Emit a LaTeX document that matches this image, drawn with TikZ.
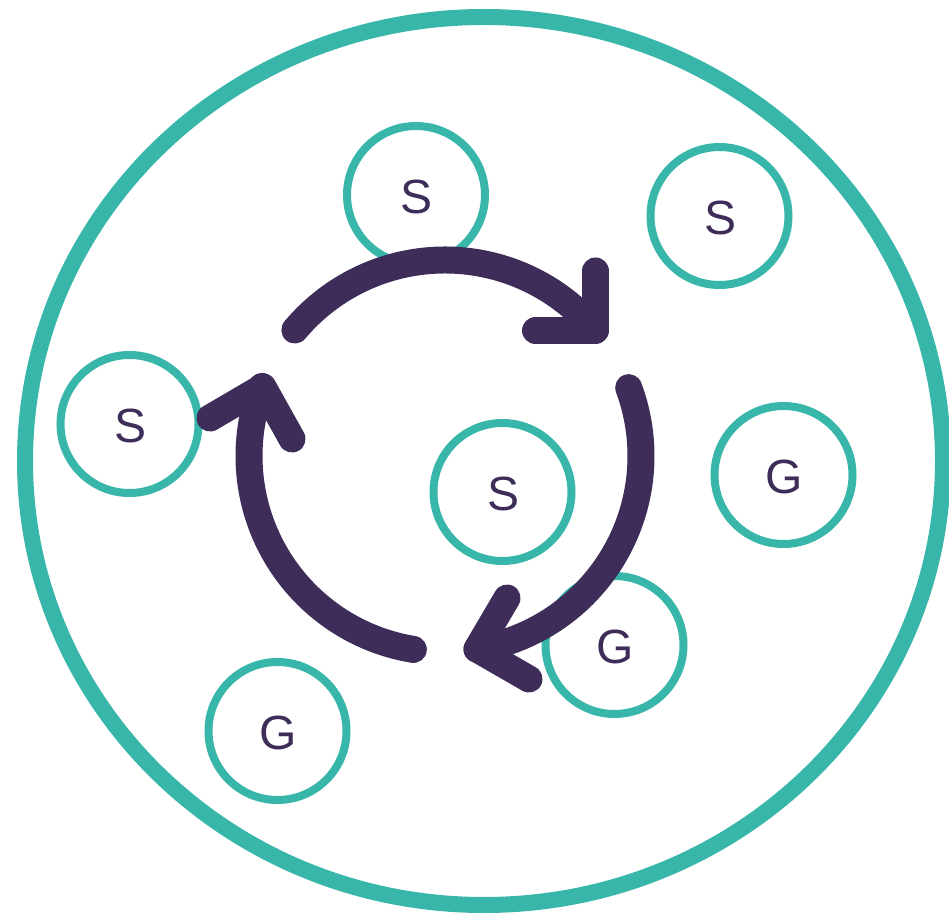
\documentclass[tikz,border=0pt]{standalone}
\usepackage{fontspec}
\setmainfont{Liberation Sans}
\usetikzlibrary{calc}
\definecolor{rim}{HTML}{38B6AA}
\definecolor{loopcol}{HTML}{3D2D58}
\tikzset{
	cell/.style = {circle, draw=rim, line width=6pt, minimum size=103.5pt, inner sep=0pt, text=loopcol, text height=27.5pt, text depth=0pt, execute at begin node=\hspace*{1.5pt}, font=\fontsize{36}{40}\selectfont},
	cycle/.style = {draw=loopcol, line width=20.25pt, line cap=round, line join=round},
}

\begin{document}
\begin{tikzpicture}[x=0.75pt, y=0.75pt]
	\useasboundingbox (0,0) rectangle (949,922);
	\draw[rim, line width=12pt] (484,461) ellipse (344.25pt and 333pt);
	\foreach \name/\x/\y/\txt in {sa/416/727/S, sb/719.5/706/S, sc/129.5/498/S, sd/502.5/430/S, ga/783.5/447/G, gb/614.5/277/G, gc/277.5/191/G} {
		\node[cell] (\name) at (\x,\y) {\txt};
	}
	\coordinate (hub) at (445,466);
	% first arrow
	\coordinate (oneStart) at ($(hub)+(140:147pt)$);
	\coordinate (oneTip) at (595.5,591.5);
	\coordinate (oneUp) at (595.5,651);
	\coordinate (oneIn) at (535.5,591.5);
	\draw[cycle] (oneStart) arc[start angle=140, end angle=40, radius=147pt];
	\draw[cycle] (oneUp) -- (oneTip) -- (oneIn);
	% second arrow
	\coordinate (twoStart) at ($(hub)+(20.4:147pt)$);
	\coordinate (twoTip) at (477,273);
	\coordinate (twoUp) at (507,324);
	\coordinate (twoIn) at (529,243);
	\draw[cycle] (twoStart) arc[start angle=20.4, end angle=-80.6, radius=147pt];
	\draw[cycle] (twoUp) -- (twoTip) -- (twoIn);
	% third arrow
	\coordinate (threeStart) at ($(hub)+(260.7:147pt)$);
	\coordinate (threeTip) at (263,535);
	\coordinate (threeUp) at (210,504);
	\coordinate (threeIn) at (292,483);
	\draw[cycle] (threeStart) arc[start angle=260.7, end angle=159.2, radius=147pt];
	\draw[cycle] (threeUp) -- (threeTip) -- (threeIn);
\end{tikzpicture}
\end{document}
